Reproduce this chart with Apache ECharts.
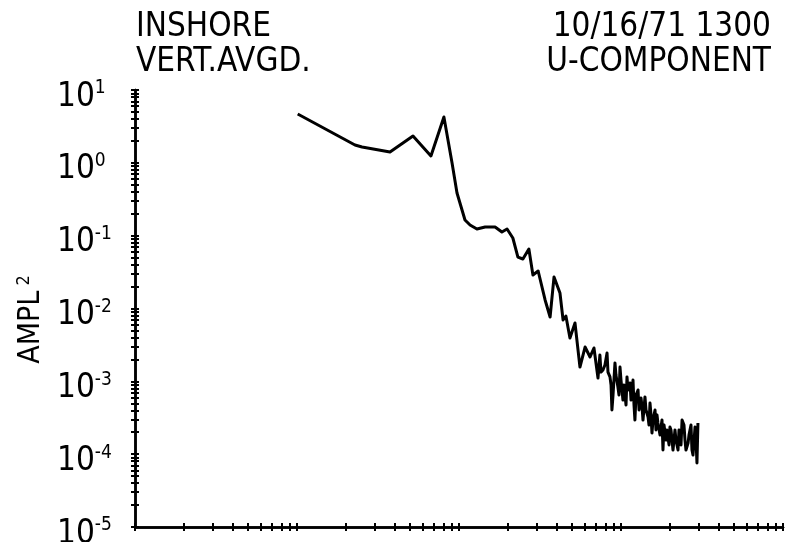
<!DOCTYPE html>
<html>
<head>
<meta charset="utf-8">
<script src="https://cdn.jsdelivr.net/npm/echarts@6/dist/echarts.min.js"></script>
<style>
html,body{margin:0;padding:0;background:#fff;}
#chart{width:789px;height:542px;}
</style>
</head>
<body>
<div id="chart"></div>
<script>
// Frequency values (log axis, unlabeled)
const freq = [
  0.0101, 0.0228, 0.0252, 0.0375, 0.0520, 0.0671, 0.0807, 0.0906, 0.0972, 0.1089,
  0.117, 0.129, 0.145, 0.167, 0.184, 0.198, 0.215, 0.231, 0.248, 0.270,
  0.286, 0.308, 0.340, 0.365, 0.386, 0.420, 0.439, 0.457, 0.484, 0.520,
  0.558, 0.600, 0.644, 0.681, 0.721,
  0.741, 0.752, 0.774, 0.796, 0.820, 0.831, 0.855, 0.868, 0.879, 0.893,
  0.918, 0.931, 0.957, 0.972, 0.986, 1.000, 1.028, 1.044, 1.074, 1.089,
  1.105, 1.137, 1.153, 1.186, 1.203, 1.219, 1.238, 1.274, 1.292, 1.329,
  1.349, 1.367, 1.406, 1.427, 1.469, 1.489, 1.510, 1.532, 1.553, 1.576,
  1.622, 1.644, 1.668, 1.690, 1.741, 1.791, 1.816, 1.843, 1.896, 1.923,
  1.979, 2.005, 2.035, 2.065, 2.094, 2.154, 2.185, 2.249, 2.280, 2.346,
  2.382, 2.448, 2.483, 2.518, 2.594, 2.628, 2.704, 2.742, 2.782, 2.864,
  2.904, 2.944, 2.985
];
// AMPL^2 values
const ampl = [
  4.68, 1.757, 1.650, 1.408, 2.335, 1.241, 4.26, 0.995, 0.385, 0.164,
  0.140, 0.1234, 0.1315, 0.1315, 0.1122, 0.1234, 0.0929, 0.0509, 0.0478, 0.0656,
  0.0288, 0.0327, 0.0131, 0.00764, 0.0271, 0.0163, 0.00695, 0.00789, 0.00394, 0.00632,
  0.00157, 0.00296, 0.00216, 0.00287, 0.00111,
  0.00230, 0.00134, 0.00143, 0.00168, 0.00245, 0.00134, 0.00115, 0.000890, 0.000404, 0.000649,
  0.00179, 0.00122, 0.000836, 0.000649, 0.00157, 0.00104, 0.000553, 0.000890, 0.000473, 0.00115,
  0.000760, 0.000948, 0.000553, 0.00104, 0.000473, 0.000294, 0.000649, 0.000760, 0.000404, 0.000590,
  0.000444, 0.000294, 0.000610, 0.000404, 0.000324, 0.000251, 0.000504, 0.000345, 0.000195, 0.000294,
  0.000404, 0.000215, 0.000345, 0.000268, 0.000183, 0.000294, 0.000114, 0.000251, 0.000156, 0.000215,
  0.000134, 0.000236, 0.000215, 0.000156, 0.000114, 0.000215, 0.000156, 0.000114, 0.000215, 0.000134,
  0.000294, 0.000251, 0.000156, 0.000114, 0.000142, 0.000183, 0.000251, 0.000114, 0.0000973, 0.000236,
  0.000156, 0.0000757, 0.000268
];
const titleLeft = 'INSHORE\nVERT.AVGD.';
const titleRight = '10/16/71 1300\nU-COMPONENT';
const yName = 'AMPL';
const yNameSup = '2';
const xDecades = [0.001, 0.01, 0.1, 1, 10];
const yDecades = [1e-5, 1e-4, 1e-3, 1e-2, 1e-1, 1, 10];

function logTicks(decades) {
  const out = [];
  for (let i = 0; i < decades.length - 1; i++) {
    for (let m = 1; m <= 9; m++) out.push(+(decades[i] * m).toPrecision(6));
  }
  out.push(decades[decades.length - 1]);
  return out;
}
const xTickVals = logTicks(xDecades);
const yTickVals = logTicks(yDecades);

const FONT = '"Liberation Sans Narrow", "DejaVu Sans Condensed", sans-serif';
const tickStyle = { color: '#000', width: 2 };

function xAxisDef(inside, main) {
  return {
    type: 'log', logBase: 10,
    position: 'bottom',
    offset: 0,
    min: xDecades[0], max: xDecades[xDecades.length - 1],
    interval: 1,
    axisLine: { show: true, onZero: false, lineStyle: { color: '#000', width: 2.5 } },
    axisTick: { show: true, inside: inside, length: 4, lineStyle: tickStyle, customValues: xTickVals },
    axisLabel: { show: false },
    splitLine: { show: false }
  };
}
function yAxisDef(inside, main) {
  return {
    type: 'log', logBase: 10,
    position: 'left',
    offset: 0,
    min: yDecades[0], max: yDecades[yDecades.length - 1],
    interval: 1,
    axisLine: { show: true, onZero: false, lineStyle: { color: '#000', width: 2.5 } },
    axisTick: { show: true, inside: inside, length: 4, lineStyle: tickStyle, customValues: yTickVals },
    axisLabel: main ? {
      show: true,
      align: 'left',
      margin: 78,
      padding: [14, 0, 0, 0],
      formatter: function (v) {
        const e = Math.round(Math.log10(v));
        return '{b|10}{e|' + String(e) + '}';
      },
      rich: {
        b: { fontFamily: FONT, fontSize: 33, color: '#000', lineHeight: 36 },
        e: { fontFamily: FONT, fontSize: 19, color: '#000', verticalAlign: 'top', lineHeight: 20 }
      }
    } : { show: false },
    splitLine: { show: false },
    name: main ? '{a|' + yName + '}{s| ' + yNameSup + '}' : '',
    nameLocation: 'middle',
    nameRotate: 90,
    nameGap: 88,
    nameTextStyle: {
      padding: [0, 22, 0, 0],
      rich: {
        a: { fontFamily: FONT, fontSize: 30, color: '#000', lineHeight: 32 },
        s: { fontFamily: FONT, fontSize: 18, color: '#000', verticalAlign: 'top', lineHeight: 18 }
      }
    }
  };
}

const chart = echarts.init(document.getElementById('chart'), null, { renderer: 'canvas' });
chart.setOption({
  animation: false,
  backgroundColor: '#fff',
  grid: { left: 135, right: 6, top: 90, bottom: 15, containLabel: false, outerBoundsMode: 'none' },
  xAxis: [xAxisDef(false, true), xAxisDef(true, false)],
  yAxis: [yAxisDef(false, true), yAxisDef(true, false)],
  graphic: [
    { type: 'text', x: 136, y: 10, style: { text: titleLeft, font: '33px ' + FONT, fill: '#000', align: 'left', verticalAlign: 'top', lineHeight: 35 } },
    { type: 'text', x: 771, y: 10, style: { text: titleRight, font: '33px ' + FONT, fill: '#000', align: 'right', verticalAlign: 'top', lineHeight: 35 } }
  ],
  series: [{
    type: 'line',
    xAxisIndex: 0, yAxisIndex: 0,
    data: freq.map(function (f, i) { return [f, ampl[i]]; }),
    showSymbol: false,
    lineStyle: { color: '#000', width: 3, join: 'round' },
    smooth: false
  }]
});
</script>
</body>
</html>
